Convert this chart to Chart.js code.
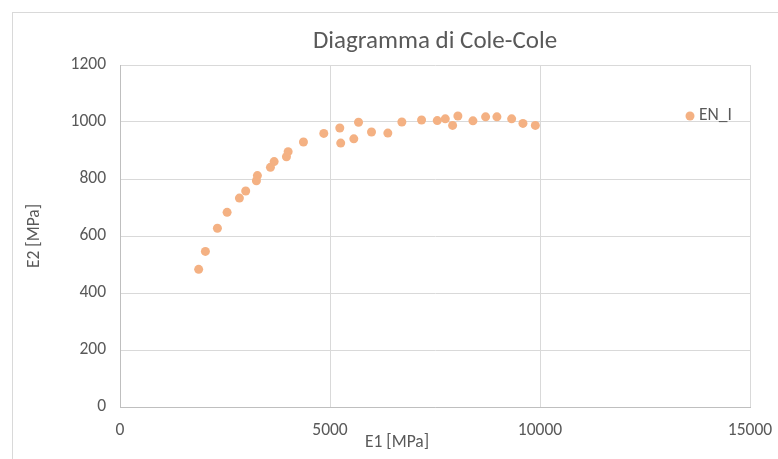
<!DOCTYPE html>
<html>
<head>
<meta charset="utf-8">
<script src="https://cdn.jsdelivr.net/npm/chart.js@4/dist/chart.umd.min.js"></script>
<style>
  html, body { margin: 0; padding: 0; background: #fff; }
  #wrap { position: relative; width: 778px; height: 459px; overflow: hidden; }
  #frame { position: absolute; left: 12px; top: 12px; width: 800px; height: 480px; border: 1px solid #d9d9d9; box-sizing: border-box; }
  #coleCole { position: absolute; left: 0; top: 0; }
</style>
</head>
<body>
<div id="wrap">
  <div id="frame"></div>
  <canvas id="coleCole" width="778" height="459"></canvas>
</div>
<script>
// Cole-Cole plot: storage modulus E1 vs loss modulus E2, sample EN_I
const SERIES_NAME = "EN_I";
const E1 = [1873, 2033, 2319, 2550, 2843, 2993, 3248, 3272, 3582, 3670,
            3963, 4003, 4368, 4852, 5233, 5255, 5567, 5679, 5988, 6377,
            6711, 7180, 7554, 7745, 7919, 8045, 8403, 8705, 8974, 9325,
            9594, 9889];
const E2 = [483, 546, 627, 683, 733, 758, 794, 812, 841, 861,
            878, 896, 930, 960, 979, 926, 941, 999, 965, 961,
            1000, 1007, 1005, 1011, 988, 1021, 1004, 1018, 1018, 1011,
            995, 988];
const X_TICKS = [0, 5000, 10000, 15000];
const Y_TICKS = [0, 200, 400, 600, 800, 1000, 1200];
const X_TITLE = "E1 [MPa]";

const FONT = "Carlito, Calibri, 'Liberation Sans Narrow', 'Open Sans', sans-serif";
const TEXT = "#595959";
const GRID = "#d9d9d9";
const AXIS = "#bfbfbf";
const DOT = "#f4b183";
const SMALL = 17.5;

const points = E1.map((x, i) => ({ x: x, y: E2[i] }));

// legend floats inside the plot near the top-right corner, and the
// E1 title sits a little left of centre under the axis (Excel layout)
const extras = {
  id: "extras",
  afterDraw(chart) {
    const { ctx, chartArea } = chart;
    const lx = chartArea.right - 60;
    const ly = chartArea.top + 51;
    ctx.save();
    ctx.fillStyle = DOT;
    ctx.beginPath();
    ctx.arc(lx, ly, 4.5, 0, Math.PI * 2);
    ctx.fill();
    ctx.fillStyle = TEXT;
    ctx.font = SMALL + "px " + FONT;
    ctx.textBaseline = "middle";
    ctx.fillText(SERIES_NAME, lx + 9, ly);

    ctx.textAlign = "center";
    ctx.fillText(X_TITLE, (chartArea.left + chartArea.right) / 2 - 38, chartArea.bottom + 36);
    ctx.restore();
  }
};

const plain = v => String(v);

new Chart(document.getElementById("coleCole"), {
  type: "scatter",
  data: {
    datasets: [{
      label: SERIES_NAME,
      data: points,
      backgroundColor: DOT,
      borderColor: DOT,
      borderWidth: 0,
      pointRadius: 4.5,
      pointHoverRadius: 4.5
    }]
  },
  options: {
    responsive: false,
    animation: false,
    layout: { padding: { left: 0, right: 28, top: 0, bottom: 0 } },
    plugins: {
      legend: { display: false },
      tooltip: { enabled: false },
      title: {
        display: true,
        fullSize: false,
        text: "Diagramma di Cole-Cole",
        color: TEXT,
        font: { family: FONT, size: 25, weight: "normal" },
        padding: { top: 27, bottom: 8 }
      }
    },
    scales: {
      x: {
        type: "linear",
        min: 0,
        max: 15000,
        afterBuildTicks(scale) { scale.ticks = X_TICKS.map(v => ({ value: v })); },
        afterFit(scale) { scale.height = 52; scale.paddingRight = 0; },
        ticks: { color: TEXT, font: { family: FONT, size: SMALL }, padding: 13, maxRotation: 0, callback: plain },
        grid: { color: GRID, drawTicks: false },
        border: { color: AXIS }
      },
      y: {
        type: "linear",
        min: 0,
        max: 1200,
        afterBuildTicks(scale) { scale.ticks = Y_TICKS.map(v => ({ value: v })); },
        afterFit(scale) { scale.width = 120; },
        ticks: { color: TEXT, font: { family: FONT, size: SMALL }, padding: 14, callback: plain },
        grid: { color: GRID, drawTicks: false },
        border: { color: AXIS },
        title: {
          display: true,
          text: "E2 [MPa]",
          color: TEXT,
          font: { family: FONT, size: SMALL },
          padding: { top: 24, bottom: 0 }
        }
      }
    }
  },
  plugins: [extras]
});
</script>
</body>
</html>
